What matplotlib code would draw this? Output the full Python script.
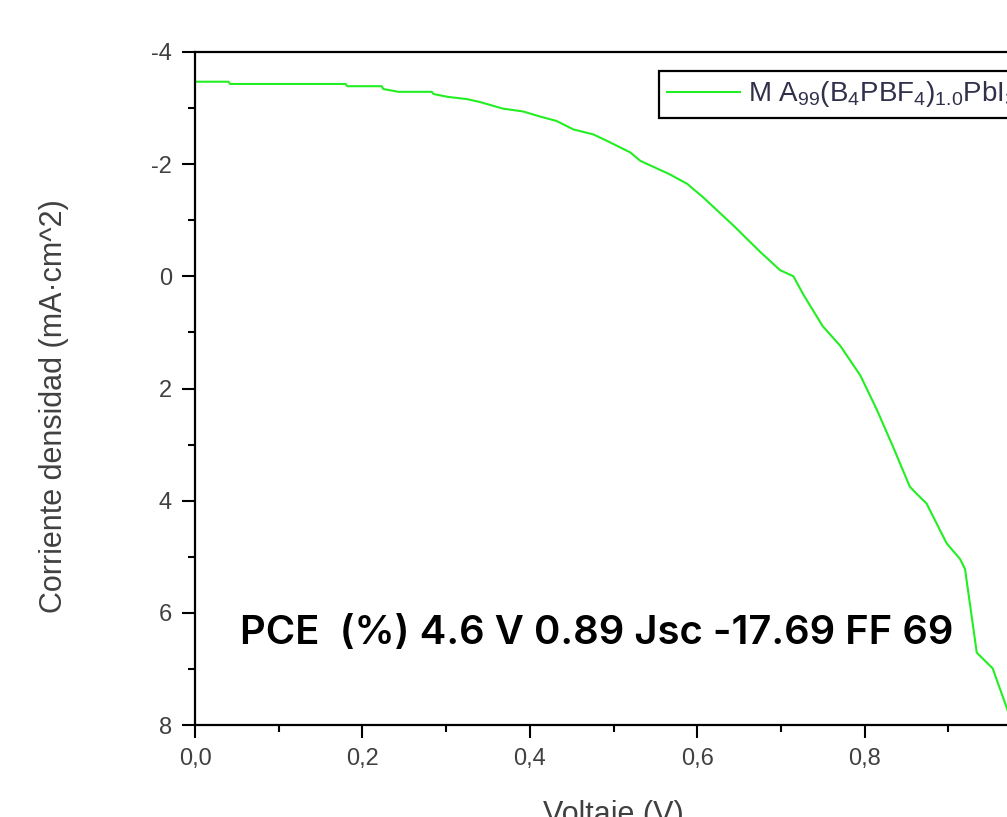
"""
J-V curve of the MA99(B4PBF4)1.0PbI3 cell with its performance figures.
"""

import numpy as np
import matplotlib.pyplot as plt
from matplotlib.ticker import MultipleLocator, FixedLocator, FixedFormatter

# measured curve: voltage (V) and current density (mA cm^-2)
voltage = [0.000, 0.040, 0.042, 0.180, 0.182, 0.223, 0.225, 0.243, 0.283,
           0.285, 0.302, 0.325, 0.340, 0.368, 0.392, 0.412, 0.432, 0.452,
           0.476, 0.493, 0.520, 0.532, 0.567, 0.588, 0.607, 0.643, 0.675,
           0.699, 0.715, 0.727, 0.750, 0.771, 0.795, 0.815, 0.834, 0.854,
           0.863, 0.874, 0.898, 0.914, 0.920, 0.934, 0.953, 0.970, 0.978]
current = [-3.47, -3.47, -3.43, -3.43, -3.39, -3.39, -3.34, -3.29, -3.29,
           -3.25, -3.20, -3.16, -3.11, -2.99, -2.94, -2.85, -2.77, -2.62,
           -2.53, -2.41, -2.21, -2.06, -1.82, -1.65, -1.41, -0.91, -0.44,
           -0.11, 0.00, 0.33, 0.89, 1.24, 1.77, 2.39, 3.04, 3.75,
           3.89, 4.05, 4.76, 5.04, 5.22, 6.71, 6.99, 7.70, 8.10]

series_label = r"M A$_{99}$(B$_4$PBF$_4$)$_{1.0}$PbI$_3$"
stats_text = "PCE  (%) 4.6 V 0.89 Jsc -17.69 FF 69"

x_ticks = [0.0, 0.2, 0.4, 0.6, 0.8]
x_tick_labels = ["0,0", "0,2", "0,4", "0,6", "0,8"]
y_ticks = [-4, -2, 0, 2, 4, 6, 8]

plt.rcParams["axes.unicode_minus"] = False
plt.rcParams["font.family"] = ["Liberation Sans", "DejaVu Sans"]
plt.rcParams["mathtext.fontset"] = "custom"
plt.rcParams["mathtext.rm"] = "Liberation Sans"
plt.rcParams["mathtext.it"] = "Liberation Sans:italic"
plt.rcParams["mathtext.bf"] = "Liberation Sans:bold"

W, H = 1007, 817
fig = plt.figure(figsize=(W / 100, H / 100), dpi=100)
ax = fig.add_axes([195 / W, 1 - 725 / H, 837 / W, 673 / H])

ax.plot(voltage, current, color="#22ee22", lw=1.5, label=series_label)

ax.set_xlim(0, 1.0)
ax.set_ylim(8, -4)

ax.xaxis.set_major_locator(FixedLocator(x_ticks))
ax.xaxis.set_major_formatter(FixedFormatter(x_tick_labels))
ax.xaxis.set_minor_locator(MultipleLocator(0.1))
ax.yaxis.set_major_locator(FixedLocator(y_ticks))
ax.yaxis.set_minor_locator(MultipleLocator(1))

for side in ax.spines.values():
    side.set_linewidth(1.6)
ax.spines["right"].set_visible(False)

ax.tick_params(which="major", direction="out", length=9.5, width=1.5,
               labelsize=17, labelcolor="#404040", pad=7)
ax.tick_params(which="minor", direction="out", length=5, width=1.5)
ax.tick_params(top=False, right=False, which="both")

ax.set_xlabel("Voltaje (V)", fontsize=22, color="#404040", labelpad=22)
ax.set_ylabel("Corriente densidad (mA·cm^2)", fontsize=22, color="#404040")
ax.yaxis.set_label_coords(-0.150, 0.474)

ax.text(0.054, 6.56, stats_text, fontsize=28.8, family="Inter",
        fontweight="semibold", color="black", va="baseline", ha="left")

leg = ax.legend(loc="upper left", bbox_to_anchor=(659 / W, 1 - 71 / H),
                bbox_transform=fig.transFigure, borderaxespad=0,
                fontsize=20, handlelength=2.6, handletextpad=0.3,
                borderpad=0.3, fancybox=False, framealpha=1)
leg.get_frame().set_edgecolor("black")
leg.get_frame().set_linewidth(1.6)
for t in leg.get_texts():
    t.set_color("#30304a")

fig.savefig("out.png", dpi=100)
